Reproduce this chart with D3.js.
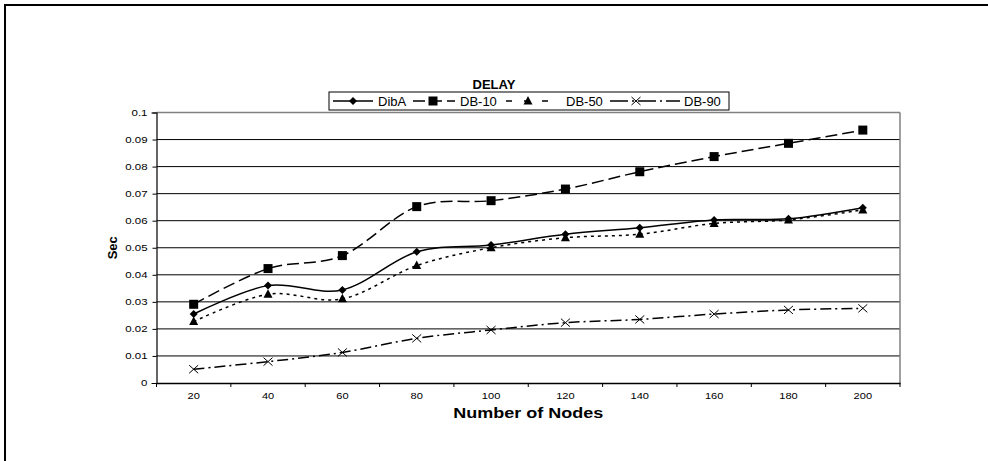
<!DOCTYPE html>
<html><head><meta charset="utf-8">
<script src="https://cdn.jsdelivr.net/npm/d3@7"></script>
<style>body{margin:0;background:#fff}svg{display:block;font-family:"Liberation Sans",Arial,sans-serif}</style>
</head><body>
<svg id="c" width="988" height="461"></svg>
<script>
const categories = [20, 40, 60, 80, 100, 120, 140, 160, 180, 200];
const dibA = [0.0255, 0.0360, 0.0344, 0.0485, 0.0510, 0.0550, 0.0574, 0.0603, 0.0607, 0.0648];
const db10 = [0.0291, 0.0423, 0.0471, 0.0652, 0.0674, 0.0717, 0.0781, 0.0837, 0.0886, 0.0935];
const db50 = [0.0227, 0.0328, 0.0311, 0.0434, 0.0500, 0.0537, 0.0550, 0.0590, 0.0603, 0.0640];
const db90 = [0.0051, 0.0079, 0.0113, 0.0165, 0.0196, 0.0223, 0.0235, 0.0255, 0.0270, 0.0276];
const seriesNames = ["DibA", "DB-10", "DB-50", "DB-90"];
const yTicks = [0, 0.01, 0.02, 0.03, 0.04, 0.05, 0.06, 0.07, 0.08, 0.09, 0.1];
const chartTitle = "DELAY";
const xTitle = "Number of Nodes";
const yTitle = "Sec";

const series = [
  {name: seriesNames[0], values: dibA, dash: null, legDash: null, marker: "diamond"},
  {name: seriesNames[1], values: db10, dash: "12,5", legDash: "12,5", marker: "square"},
  {name: seriesNames[2], values: db50, dash: "3,4", legDash: "6,12", marker: "triangle"},
  {name: seriesNames[3], values: db90, dash: "11,4,2,4", legDash: "18,4,2,4", marker: "cross"}
];

const svg = d3.select("#c");
const L = 156.5, R = 900, T = 112.5, B = 383;
const FONT = "Liberation Sans, Arial, sans-serif";

function stretch(sel, k) {
  sel.each(function () {
    const w = this.getComputedTextLength();
    d3.select(this).attr("textLength", w * k).attr("lengthAdjust", "spacingAndGlyphs");
  });
}

// outer chart border (right/bottom edges lie outside the view)
svg.append("rect").attr("x", 5).attr("y", 5).attr("width", 1100).attr("height", 600)
  .attr("fill", "none").attr("stroke", "#000").attr("stroke-width", 2);

const x = d3.scaleBand().domain(categories).range([L, R]).padding(0);
const y = d3.scaleLinear().domain([0, 0.1]).range([B, T]);

// gridlines
svg.append("g").selectAll("line").data(yTicks.filter(d => d > 0 && d < 0.1)).join("line")
  .attr("x1", L).attr("x2", R).attr("y1", d => y(d)).attr("y2", d => y(d))
  .attr("stroke", "#000").attr("stroke-width", 1);
// plot border top/right gray
svg.append("line").attr("x1", L).attr("x2", R).attr("y1", T).attr("y2", T).attr("stroke", "#808080").attr("stroke-width", 1.5);
svg.append("line").attr("x1", R).attr("x2", R).attr("y1", T).attr("y2", B).attr("stroke", "#808080").attr("stroke-width", 1.5);

// y axis
const yAxis = d3.axisLeft(y).tickValues(yTicks).tickSize(5).tickPadding(4).tickFormat(d => d3.format("")(+d.toFixed(2)));
const gy = svg.append("g").attr("transform", `translate(${L},0)`).call(yAxis);
gy.select(".domain").attr("stroke", "#000").attr("stroke-width", 1.2);
gy.selectAll(".tick line").attr("stroke", "#000").attr("x2", -4);
gy.selectAll("text").attr("font-size", 8.5).attr("font-family", FONT).attr("fill", "#000");
stretch(gy.selectAll("text"), 1.35);

// x axis
const xAxis = d3.axisBottom(x).tickSize(0).tickPadding(10);
const gx = svg.append("g").attr("transform", `translate(0,${B})`).call(xAxis);
gx.select(".domain").attr("stroke", "#000").attr("stroke-width", 1.5);
gx.selectAll("text").attr("font-size", 8.5).attr("font-family", FONT).attr("fill", "#000");
stretch(gx.selectAll("text"), 1.3);
// boundary ticks
const bounds = categories.map(c => x(c)).concat([x(categories[categories.length - 1]) + x.bandwidth()]);
svg.append("g").selectAll("line").data(bounds).join("line")
  .attr("x1", d => d).attr("x2", d => d).attr("y1", B).attr("y2", B + 4)
  .attr("stroke", "#000").attr("stroke-width", 1);

const cx = c => x(c) + x.bandwidth() / 2;
const line = d3.line().x((d, i) => cx(categories[i])).y(d => y(d)).curve(d3.curveCardinal.tension(0));

function drawMarker(g, type, px, py) {
  if (type === "diamond") {
    g.append("path").attr("d", `M${px},${py-4}L${px+4},${py}L${px},${py+4}L${px-4},${py}Z`).attr("fill", "#000");
  } else if (type === "square") {
    g.append("rect").attr("x", px-4.5).attr("y", py-4.5).attr("width", 9).attr("height", 9).attr("fill", "#000");
  } else if (type === "triangle") {
    g.append("path").attr("d", `M${px},${py-5}L${px+4.5},${py+3.5}L${px-4.5},${py+3.5}Z`).attr("fill", "#000");
  } else {
    g.append("path").attr("d", `M${px-4.5},${py-4}L${px+4.5},${py+4}M${px-4.5},${py+4}L${px+4.5},${py-4}`)
      .attr("stroke", "#000").attr("stroke-width", 1).attr("fill", "none");
  }
}

series.forEach(s => {
  const g = svg.append("g");
  g.append("path").attr("d", line(s.values)).attr("fill", "none").attr("stroke", "#000")
    .attr("stroke-width", 1.5).attr("stroke-dasharray", s.dash);
  s.values.forEach((v, i) => drawMarker(g, s.marker, cx(categories[i]), y(v)));
});

// title
svg.append("text").attr("x", 494).attr("y", 89).attr("text-anchor", "middle")
  .attr("font-size", 13).attr("font-weight", "bold").text(chartTitle);

// legend
const lg = svg.append("g");
lg.append("rect").attr("x", 329).attr("y", 92).attr("width", 400).attr("height", 18)
  .attr("fill", "#fff").attr("stroke", "#000").attr("stroke-width", 1);
const legLines = [[333, 373, 353], [413, 455, 433], [506, 548, 528], [610, 680, 636]];
const textX = [378, 460, 566, 684];
series.forEach((s, i) => {
  const ly = 101, [a, b, m] = legLines[i];
  lg.append("line").attr("x1", a).attr("x2", b).attr("y1", ly).attr("y2", ly)
    .attr("stroke", "#000").attr("stroke-width", 1.5).attr("stroke-dasharray", s.legDash);
  drawMarker(lg, s.marker, m, ly);
  lg.append("text").attr("x", textX[i]).attr("y", ly + 4.5).attr("font-size", 13).text(s.name);
});

// axis titles
const xt = svg.append("text").attr("x", (L + R) / 2).attr("y", 418).attr("text-anchor", "middle")
  .attr("font-size", 15).attr("font-weight", "bold").text(xTitle);
stretch(xt, 1.2);
svg.append("text").attr("transform", `translate(117,${(T + B) / 2}) rotate(-90)`).attr("text-anchor", "middle")
  .attr("font-size", 13).attr("font-weight", "bold").text(yTitle);
</script>
</body></html>
